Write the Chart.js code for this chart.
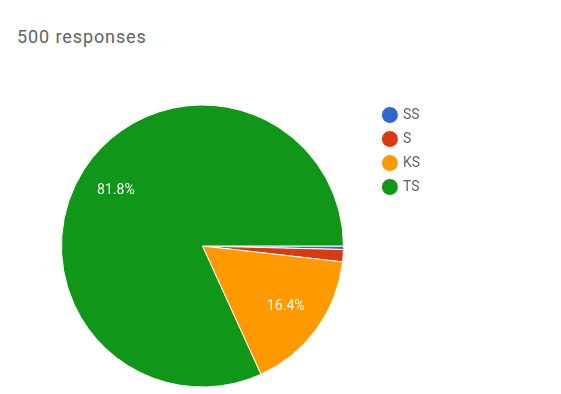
<!DOCTYPE html>
<html>
<head>
<meta charset="utf-8">
<script src="https://cdn.jsdelivr.net/npm/chart.js@4"></script>
<style>
  html, body { margin: 0; padding: 0; background: #fff; }
  body { width: 561px; height: 394px; position: relative; overflow: hidden; font-family: Roboto, Arial, sans-serif; }
  #title { position: absolute; left: 17px; top: 26px; font-size: 18px; letter-spacing: 0.9px; color: #5f6368; }
  #wrap { position: absolute; left: 0; top: 88px; width: 561px; height: 306px; }
</style>
</head>
<body>
<div id="title">500 responses</div>
<div id="wrap"><canvas id="pieChart"></canvas></div>
<script>
// Data
const categories = ['SS', 'S', 'KS', 'TS'];
const responses = [2, 7, 82, 409];
const colors = ['#3366cc', '#dc3912', '#ff9900', '#109618'];

// Percent labels inside bigger slices
const pctLabels = {
    id: 'pctLabels',
    afterDatasetsDraw(chart) {
        const ctx = chart.ctx;
        const meta = chart.getDatasetMeta(0);
        const total = responses.reduce((a, b) => a + b, 0);
        ctx.save();
        ctx.fillStyle = '#ffffff';
        ctx.font = '14px Roboto, Arial, sans-serif';
        ctx.textAlign = 'center';
        ctx.textBaseline = 'middle';
        meta.data.forEach(function(arc, i) {
            const pct = responses[i] / total * 100;
            if (pct < 5) return;
            const mid = (arc.startAngle + arc.endAngle) / 2;
            const r = arc.outerRadius * 0.73;
            ctx.fillText(pct.toFixed(1) + '%', arc.x + Math.cos(mid) * r, arc.y + Math.sin(mid) * r);
        });
        ctx.restore();
    }
};

document.addEventListener('DOMContentLoaded', function() {
    const ctx = document.getElementById('pieChart').getContext('2d');
    const pieChart = new Chart(ctx, {
        type: 'pie',
        data: {
            labels: categories,
            datasets: [{
                data: responses,
                backgroundColor: colors,
                borderColor: '#ffffff',
                borderWidth: 1
            }]
        },
        options: {
            responsive: true,
            maintainAspectRatio: false,
            animation: false,
            rotation: 90,
            radius: 141,
            layout: {
                padding: { left: 31, top: 10, bottom: 0, right: 131 }
            },
            plugins: {
                legend: {
                    position: 'right',
                    align: 'start',
                    labels: {
                        usePointStyle: true,
                        pointStyle: 'circle',
                        boxWidth: 12,
                        boxHeight: 12,
                        padding: 10,
                        color: '#5f6368',
                        font: { family: 'Roboto, Arial, sans-serif', size: 14 }
                    }
                },
                tooltip: { enabled: false }
            }
        },
        plugins: [pctLabels]
    });
});
</script>
</body>
</html>
